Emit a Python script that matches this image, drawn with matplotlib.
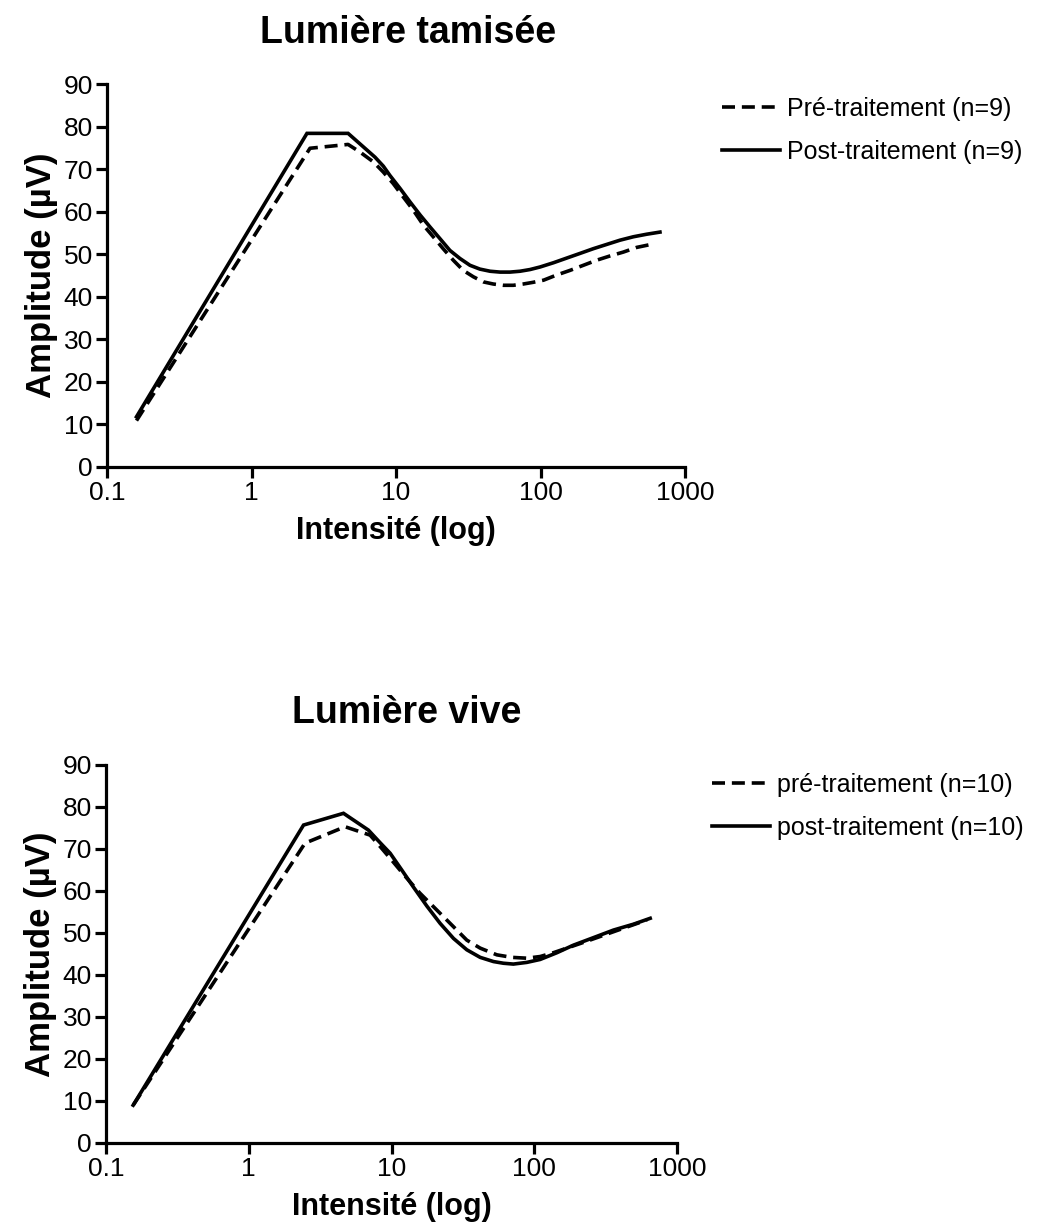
import matplotlib.pyplot as plt
from matplotlib.ticker import FixedLocator, NullLocator

plt.rcParams['font.family'] = ['Liberation Sans', 'DejaVu Sans']

# Lumière tamisée
dim_pre_x = [0.16, 2.54, 4.66, 5.64, 6.97, 8.17, 9.57, 11.2, 13.2, 15.5, 18.1, 21.2, 24.9,
             29.2, 34.3, 40.2, 47.1, 55.3, 64.8, 76, 89, 105, 129, 160, 198, 245, 303,
             374, 463, 620]
dim_pre_y = [10.9, 74.9, 75.8, 74.0, 71.7, 69.3, 66.6, 63.5, 60.3, 56.8, 54.1, 51.3, 48.6,
             46.2, 44.7, 43.5, 43.0, 42.7, 42.7, 43.0, 43.4, 43.9, 45.1, 46.2, 47.4, 48.6,
             49.6, 50.5, 51.6, 52.5]
dim_post_x = [0.16, 2.42, 4.66, 7.16, 8.17, 9.08, 10.7, 12.5, 14.7, 17.2, 20.1, 23.6, 27.7,
              32.5, 38.1, 44.8, 52.5, 61.5, 72.1, 84.6, 99.3, 123, 152, 188, 232, 287,
              355, 439, 543, 671]
dim_post_y = [11.8, 78.4, 78.4, 72.8, 70.7, 68.5, 65.4, 62.3, 59.2, 56.4, 53.7, 50.9, 49.0,
              47.4, 46.5, 46.0, 45.8, 45.8, 46.0, 46.4, 47.0, 48.0, 49.1, 50.2, 51.3, 52.3,
              53.3, 54.1, 54.7, 55.2]

# Lumière vive
bright_pre_x = [0.155, 2.48, 4.73, 7.08, 8.32, 9.78, 12.4, 15.8, 19.1, 23.1, 27.9, 33.7,
                41.8, 54.7, 69.7, 88.7, 110, 136, 169, 210, 275, 359, 470, 615]
bright_pre_y = [9.0, 71.4, 75.3, 73.3, 70.6, 67.8, 63.6, 59.5, 56.7, 53.9, 51.1, 48.3,
                46.4, 44.8, 44.2, 44.0, 44.4, 45.3, 46.4, 47.5, 48.9, 50.3, 51.7, 53.1]
bright_post_x = [0.155, 2.42, 4.61, 6.89, 8.32, 9.78, 11.8, 14.2, 17.7, 21.9, 27.2, 33.7,
                 41.8, 51.8, 60.8, 71.4, 88.7, 110, 144, 188, 260, 359, 496, 649]
bright_post_y = [9.0, 75.7, 78.5, 74.5, 71.5, 69.0, 65.0, 61.0, 56.4, 52.3, 48.7, 46.0,
                 44.2, 43.2, 42.8, 42.6, 43.0, 43.7, 45.3, 47.1, 48.9, 50.7, 52.1, 53.5]

x_ticks = [0.1, 1, 10, 100, 1000]
x_tick_labels = ['0.1', '1', '10', '100', '1000']
y_ticks = list(range(0, 91, 10))

W, H = 1045, 1230
fig = plt.figure(figsize=(W / 100, H / 100), dpi=100)


def px_axes(l, t, r, b):
    return fig.add_axes([l / W, 1 - b / H, (r - l) / W, (b - t) / H])


def draw(ax, title, title_xy, pre, post, labels, leg_xy):
    ax.plot(pre[0], pre[1], color='black', lw=2.6, dashes=(3.6, 1.9),
            dash_capstyle='butt', dash_joinstyle='round', label=labels[0], clip_on=False)
    ax.plot(post[0], post[1], color='black', lw=2.6, solid_joinstyle='miter',
            label=labels[1], clip_on=False)
    ax.set_xscale('log')
    ax.set_xlim(0.1, 1000)
    ax.set_ylim(0, 90)
    ax.xaxis.set_major_locator(FixedLocator(x_ticks))
    ax.xaxis.set_minor_locator(NullLocator())
    ax.set_xticklabels(x_tick_labels)
    ax.set_yticks(y_ticks)
    for s in ['top', 'right']:
        ax.spines[s].set_visible(False)
    for s in ['left', 'bottom']:
        ax.spines[s].set_linewidth(2.3)
    ax.tick_params(width=2.3, length=8, labelsize=19, pad=2)
    ax.set_xlabel('Intensité (log)', fontsize=22, fontweight='bold', labelpad=8)
    ax.set_ylabel('Amplitude (µV)', fontsize=25, fontweight='bold', labelpad=4)
    fig.text(title_xy[0] / W, 1 - title_xy[1] / H, title, fontsize=27,
             fontweight='bold', ha='center', va='center')
    ax.legend(loc='upper left', bbox_to_anchor=(leg_xy[0] / W, 1 - leg_xy[1] / H),
              bbox_transform=fig.transFigure, frameon=False, fontsize=18,
              handlelength=2.3, handletextpad=0.3, labelspacing=0.75,
              borderpad=0, borderaxespad=0)


ax1 = px_axes(107, 84, 685, 467)
draw(ax1, 'Lumière tamisée', (408, 33),
     (dim_pre_x, dim_pre_y), (dim_post_x, dim_post_y),
     ['Pré-traitement (n=9)', 'Post-traitement (n=9)'], (722, 97))

ax2 = px_axes(106, 765, 677, 1143)
draw(ax2, 'Lumière vive', (407, 713),
     (bright_pre_x, bright_pre_y), (bright_post_x, bright_post_y),
     ['pré-traitement (n=10)', 'post-traitement (n=10)'], (712, 773))

fig.savefig('out.png', dpi=100)
